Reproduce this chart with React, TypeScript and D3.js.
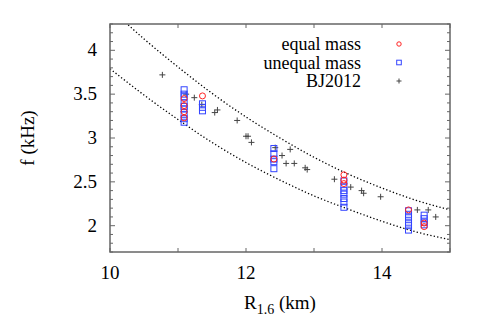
import React from 'react';
import * as d3 from 'd3';

// R_1.6 (km), f (kHz)
const equalMass: [number, number][] = [
  [11.09, 3.45], [11.09, 3.37], [11.09, 3.3], [11.09, 3.23], [11.36, 3.48],
  [12.41, 2.76], [13.44, 2.58], [13.44, 2.52], [13.44, 2.48],
  [14.39, 2.18], [14.62, 1.99], [14.62, 2.03],
];

const unequalMass: [number, number][] = [
  [11.09, 3.55], [11.09, 3.5], [11.09, 3.47], [11.09, 3.4], [11.09, 3.36], [11.09, 3.33],
  [11.09, 3.27], [11.09, 3.22], [11.09, 3.18],
  [11.36, 3.39], [11.36, 3.35], [11.36, 3.31],
  [12.41, 2.88], [12.41, 2.82], [12.41, 2.76], [12.41, 2.73], [12.41, 2.65],
  [13.44, 2.51], [13.44, 2.44], [13.44, 2.4], [13.44, 2.36], [13.44, 2.31], [13.44, 2.27], [13.44, 2.21],
  [14.39, 2.17], [14.39, 2.13], [14.39, 2.09], [14.39, 2.04], [14.39, 2.0], [14.39, 1.95],
  [14.62, 2.12], [14.62, 2.08], [14.62, 2.04], [14.62, 2.01],
];

const bj2012: [number, number][] = [
  [10.77, 3.72], [11.12, 3.5], [11.24, 3.46], [11.35, 3.38], [11.58, 3.32], [11.54, 3.29],
  [11.87, 3.2], [12.0, 3.02], [12.03, 3.02], [12.08, 2.95], [12.43, 2.89], [12.53, 2.8],
  [12.65, 2.87], [12.59, 2.71], [12.71, 2.71], [12.87, 2.66], [12.9, 2.64], [13.3, 2.53],
  [13.54, 2.44], [13.7, 2.4], [13.73, 2.37], [13.98, 2.33], [14.52, 2.18], [14.68, 2.18],
  [14.79, 2.1],
];

// dotted bounds
const upperBound: [number, number][] = [
  [10.0, 4.48], [10.5, 4.13], [11.0, 3.81], [11.5, 3.51], [12.0, 3.24], [12.5, 3.0],
  [13.0, 2.78], [13.5, 2.59], [14.0, 2.43], [14.5, 2.29], [15.0, 2.18],
];
const lowerBound: [number, number][] = [
  [10.0, 3.79], [10.5, 3.49], [11.0, 3.21], [11.5, 2.95], [12.0, 2.72], [12.5, 2.52],
  [13.0, 2.34], [13.5, 2.19], [14.0, 2.05], [14.5, 1.93], [15.0, 1.84],
];

const xTicks = [10, 11, 12, 13, 14, 15];
const xLabels = [10, 12, 14];
const yTicks = [2, 2.5, 3, 3.5, 4];

const legendItems = ['equal mass', 'unequal mass', 'BJ2012'];

const W = 480;
const H = 336;
const m = { left: 110, right: 30, top: 24, bottom: 84 };
const serif = { fontFamily: '"Liberation Serif", "Times New Roman", Times, serif' };
const axisColor = '#666';

export default function App() {
  const x = d3.scaleLinear().domain([10, 15]).range([m.left, W - m.right]);
  const y = d3.scaleLinear().domain([1.7, 4.3]).range([H - m.bottom, m.top]);
  const [x0, x1] = x.range();
  const [y0, y1] = y.range();

  const line = d3.line<[number, number]>()
    .x(d => x(d[0]))
    .y(d => y(d[1]))
    .curve(d3.curveMonotoneX);

  const yMinor = d3.range(17, 44).map(v => v / 10).filter(v => !yTicks.some(t => Math.abs(t - v) < 1e-6));

  const plus = (cx: number, cy: number, k: string | number, s = 3) => (
    <path key={k} d={`M${cx - s},${cy}H${cx + s}M${cx},${cy - s}V${cy + s}`} stroke="#444" strokeWidth={1} fill="none" />
  );

  return (
    <svg width={W} height={H} style={{ position: 'absolute', left: 0, top: 0, background: '#fff' }}>
      <defs>
        <clipPath id="plot">
          <rect x={x0} y={y1} width={x1 - x0} height={y0 - y1} />
        </clipPath>
      </defs>

      {/* ticks */}
      {xTicks.map(t => (
        <g key={'xt' + t} stroke={axisColor} strokeWidth={1}>
          <line x1={x(t)} x2={x(t)} y1={y0} y2={y0 - 4} />
          <line x1={x(t)} x2={x(t)} y1={y1} y2={y1 + 4} />
        </g>
      ))}
      {yTicks.map(t => (
        <g key={'yt' + t} stroke={axisColor} strokeWidth={1}>
          <line x1={x0} x2={x0 + 5} y1={y(t)} y2={y(t)} />
          <line x1={x1} x2={x1 - 5} y1={y(t)} y2={y(t)} />
        </g>
      ))}
      {yMinor.map(t => (
        <g key={'ym' + t} stroke={axisColor} strokeWidth={1}>
          <line x1={x0} x2={x0 + 3} y1={y(t)} y2={y(t)} />
          <line x1={x1} x2={x1 - 3} y1={y(t)} y2={y(t)} />
        </g>
      ))}

      {/* tick labels */}
      {xLabels.map(t => (
        <text key={'xl' + t} x={x(t)} y={y0 + 27} textAnchor="middle" style={serif} fontSize={19} fill="#000">{t}</text>
      ))}
      {yTicks.map(t => (
        <text key={'yl' + t} x={x0 - 13} y={y(t) + 6} textAnchor="end" style={serif} fontSize={19} fill="#000">{t}</text>
      ))}

      {/* axis titles */}
      <text x={x(12.5)} y={y0 + 57} textAnchor="middle" style={serif} fontSize={19} fill="#000">
        R<tspan fontSize={14} dy={5}>1.6</tspan><tspan dy={-5}> (km)</tspan>
      </text>
      <text transform={`translate(34,${(y0 + y1) / 2}) rotate(-90)`} textAnchor="middle" style={serif} fontSize={19} fill="#000">f (kHz)</text>

      {/* dotted bounds */}
      <g clipPath="url(#plot)">
        <path d={line(upperBound) ?? ''} fill="none" stroke="#000" strokeWidth={1.3} strokeDasharray="1.3,2.2" />
        <path d={line(lowerBound) ?? ''} fill="none" stroke="#000" strokeWidth={1.3} strokeDasharray="1.3,2.2" />
      </g>

      {/* data */}
      {bj2012.map((d, i) => plus(x(d[0]), y(d[1]), 'bj' + i))}
      {unequalMass.map((d, i) => (
        <rect key={'u' + i} x={x(d[0]) - 3} y={y(d[1]) - 3} width={6} height={6} fill="none" stroke="#3344ff" strokeWidth={1} />
      ))}
      {equalMass.map((d, i) => (
        <circle key={'e' + i} cx={x(d[0])} cy={y(d[1])} r={3} fill="none" stroke="#ff2222" strokeWidth={1} />
      ))}

      {/* legend */}
      {legendItems.map((name, i) => {
        const ly = 44 + i * 18.5;
        const mx = 399;
        return (
          <g key={name}>
            <text x={361} y={ly + 6} textAnchor="end" style={serif} fontSize={18} fill="#000">{name}</text>
            {i === 0 && <circle cx={mx} cy={ly} r={2.2} fill="none" stroke="#ff2222" strokeWidth={1} />}
            {i === 1 && <rect x={mx - 2.3} y={ly - 2.3} width={4.6} height={4.6} fill="none" stroke="#3344ff" strokeWidth={1} />}
            {i === 2 && plus(mx, ly, 'lg', 2.5)}
          </g>
        );
      })}

      {/* frame */}
      <rect x={x0} y={y1} width={x1 - x0} height={y0 - y1} fill="none" stroke={axisColor} strokeWidth={1.5} />
    </svg>
  );
}
